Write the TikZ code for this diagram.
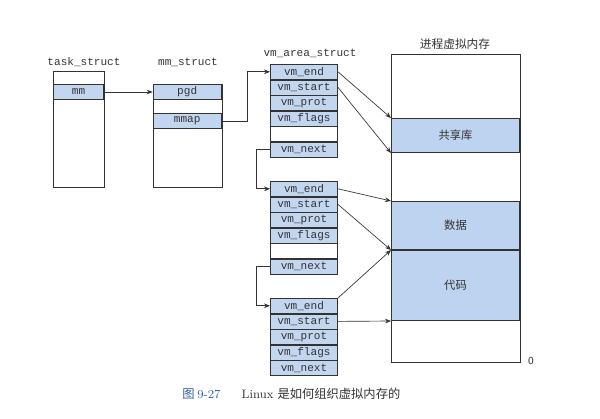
\documentclass[tikz,border=0pt]{standalone}
\usepackage{fontspec}
\setmonofont{Liberation Mono}
\newfontfamily\cjk{Noto Sans CJK SC}
\usetikzlibrary{positioning,arrows.meta}
\definecolor{rowblue}{HTML}{C3D6F0}
\definecolor{memblue}{HTML}{BED3F0}
\definecolor{ink}{HTML}{333333}
\definecolor{capblue}{HTML}{2F5FA8}
\tikzset{
  fld/.style={draw=ink, line width=0.5pt, fill=rowblue, inner sep=0pt,
    minimum width=50.5pt, minimum height=11.2pt, font=\ttfamily\fontsize{8.3}{9}\selectfont, text=ink},
  blank/.style={fld, fill=white},
  frame/.style={draw=ink, line width=0.5pt},
  arr/.style={draw=ink, line width=0.5pt, -{Stealth[length=4.5pt,width=3.5pt]}},
  lab/.style={font=\ttfamily\fontsize{8.3}{9}\selectfont, text=ink},
  mem/.style={draw=ink, line width=0.5pt, fill=memblue, inner sep=0pt, minimum width=96.25pt,
    font=\cjk\fontsize{8.5}{10}\selectfont, text=ink}
}
\begin{document}
\begin{tikzpicture}[x=0.75pt,y=-0.75pt]
\useasboundingbox (0,0) rectangle (600,418);
% task_struct
\node[lab] (tlab) at (84,62) {task\_struct};
\draw[frame] (53,71) rectangle (104,187);
\node[fld, minimum width=37.75pt, minimum height=11.5pt, anchor=north west] (mm) at (53,84) {mm};
% mm_struct
\node[lab] (mlab) at (188,62) {mm\_struct};
\draw[frame] (153,84) rectangle (222,187);
\node[fld, minimum width=51.25pt, minimum height=11.5pt, anchor=north west] (pgd) at (152.7,84) {pgd};
\node[fld, minimum width=51.25pt, minimum height=11.5pt, anchor=north west] (mmap) at (152.7,113) {mmap};
% vm_area_struct 1
\node[lab] (vlab) at (310,53) {vm\_area\_struct};
\node[fld, anchor=north west] (e1) at (270,64) {vm\_end};
\node[fld, below=0pt of e1] (s1) {vm\_start};
\node[fld, below=0pt of s1] (p1) {vm\_prot};
\node[fld, below=0pt of p1] (f1) {vm\_flags};
\node[blank, below=0pt of f1] (b1) {};
\node[fld, below=0pt of b1] (n1) {vm\_next};
% vm_area_struct 2
\node[fld, anchor=north west] (e2) at (270,181) {vm\_end};
\node[fld, below=0pt of e2] (s2) {vm\_start};
\node[fld, below=0pt of s2] (p2) {vm\_prot};
\node[fld, below=0pt of p2] (f2) {vm\_flags};
\node[blank, below=0pt of f2] (b2) {};
\node[fld, below=0pt of b2] (n2) {vm\_next};
% vm_area_struct 3
\node[fld, anchor=north west] (e3) at (270,298) {vm\_end};
\node[fld, below=0pt of e3] (s3) {vm\_start};
\node[fld, below=0pt of s3] (p3) {vm\_prot};
\node[fld, below=0pt of p3] (f3) {vm\_flags};
\node[fld, below=0pt of f3] (n3) {vm\_next};
% process virtual memory
\node[font=\cjk\fontsize{8.8}{10}\selectfont, text=ink] (plab) at (455,44) {进程虚拟内存};
\draw[frame] (391,54) rectangle (520,362);
\node[mem, minimum height=25.75pt, anchor=north west] (shl) at (391,118) {共享库};
\node[mem, minimum height=36.25pt, anchor=north west] (dat) at (391,201) {数据};
\node[mem, minimum height=52.75pt, anchor=north west] (cod) at (391,250) {代码};
\node[font=\sffamily\fontsize{8}{9}\selectfont, text=ink] (zero) at (531,361) {0};
% connectors
\coordinate (j1) at (247,0);
\coordinate (j2) at (256,0);
\draw[arr] (mm.east) -- (pgd.west);
\draw[arr] (mmap.east) -- (mmap.east -| j1) |- (e1.west);
\draw[arr] (n1.west) -- (n1.west -| j2) |- (e2.west);
\draw[arr] (n2.west) -- (n2.west -| j2) |- (e3.west);
\draw[arr] (e1.east) -- (shl.north west);
\draw[arr] (s1.east) -- (shl.south west);
\draw[arr] (e2.east) -- (dat.north west);
\draw[arr] (s2.east) -- (dat.south west);
\draw[arr] (e3.north east) -- (cod.north west);
\draw[arr] (s3.east) -- (cod.south west);
% caption
\node[anchor=west, inner sep=0pt, font=\fontsize{9.2}{11}\selectfont, text=ink] (cap) at (182,394)
  {{\color{capblue}\cjk 图\ }{\color{capblue}9-27}\hspace{16pt}Linux {\cjk 是如何组织虚拟内存的}};
\end{tikzpicture}
\end{document}
